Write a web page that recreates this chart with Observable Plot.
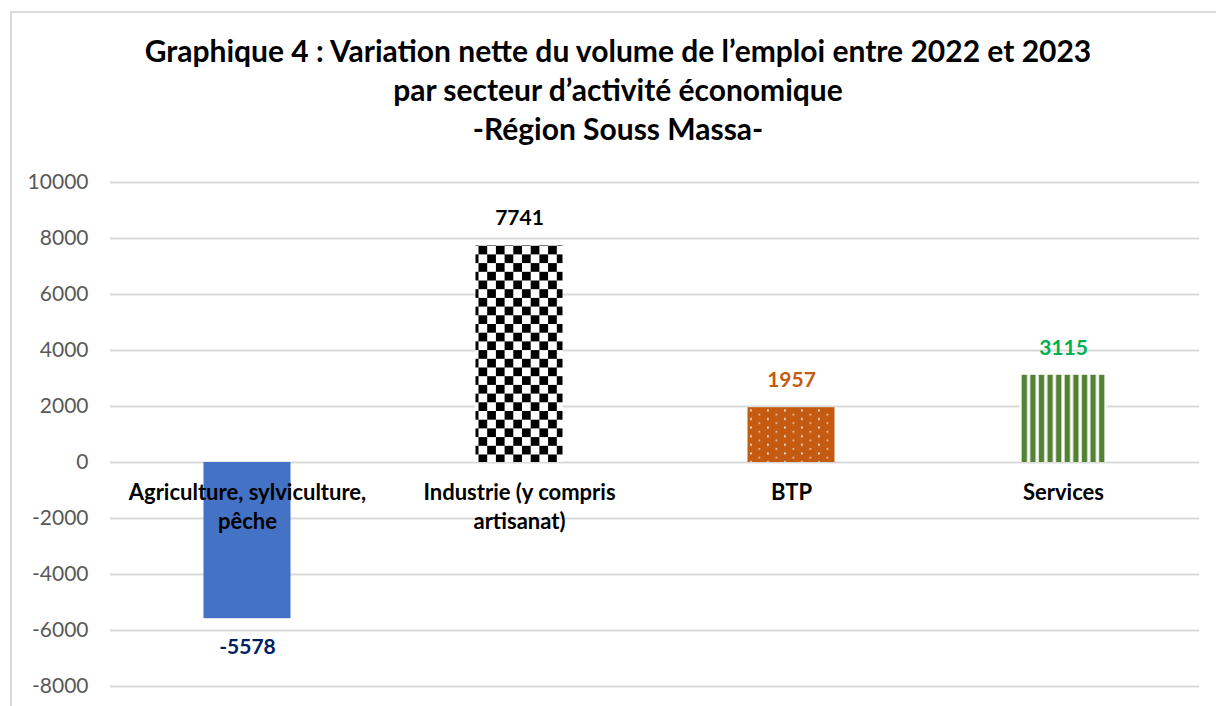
<!DOCTYPE html>
<html>
<head>
<meta charset="utf-8">
<script src="https://cdn.jsdelivr.net/npm/d3@7"></script>
<script src="https://cdn.jsdelivr.net/npm/@observablehq/plot@0.6"></script>
<style>
  html, body { margin: 0; padding: 0; background: #fff; overflow: hidden; }
  body { width: 1216px; height: 706px; position: relative; font-family: Lato, "Open Sans", sans-serif; }
  #frame { position: absolute; left: 10px; top: 11px; width: 1240px; height: 760px; border: 2px solid #d9d9d9; box-sizing: border-box; }
  #title { position: absolute; left: 0; width: 1236px; top: 31px; text-align: center; font-weight: 700; font-size: 30px; line-height: 39px; color: #000; }
  #chart { position: absolute; left: 0; top: 150px; }
</style>
</head>
<body>
<div id="frame"></div>
<div id="title">Graphique 4 : Variation nette du volume de l’emploi entre 2022 et 2023<br>par secteur d’activité économique<br>-Région Souss Massa-</div>
<svg width="0" height="0" style="position:absolute">
  <defs>
    <pattern id="checker" patternUnits="userSpaceOnUse" x="0" y="0" width="17.4" height="17.4">
      <rect width="17.4" height="17.4" fill="#ffffff"/>
      <rect x="0" y="0" width="8.7" height="8.7" fill="#000000"/>
      <rect x="8.7" y="8.7" width="8.7" height="8.7" fill="#000000"/>
    </pattern>
    <pattern id="dotsOrange" patternUnits="userSpaceOnUse" x="0" y="0" width="17" height="8.6">
      <rect width="17" height="8.6" fill="#C55A11"/>
      <rect x="2" y="1.5" width="1.8" height="1.8" fill="#ffffff" opacity="0.9"/>
      <rect x="10.5" y="5.8" width="1.8" height="1.5" fill="#ffffff" opacity="0.7"/>
    </pattern>
    <pattern id="stripesGreen" patternUnits="userSpaceOnUse" x="1019" y="0" width="8.6" height="10">
      <rect width="8.6" height="10" fill="#ffffff"/>
      <rect x="2.6" y="0" width="5.4" height="10" fill="#548235"/>
    </pattern>
  </defs>
</svg>
<div id="chart"></div>
<script>
const categories = ["Agriculture, sylviculture, pêche", "Industrie (y compris artisanat)", "BTP", "Services"];
const values = [-5578, 7741, 1957, 3115];
const categoryLabels = ["Agriculture, sylviculture,\npêche", "Industrie (y compris\nartisanat)", "BTP", "Services"];
const yTicks = [-8000, -6000, -4000, -2000, 0, 2000, 4000, 6000, 8000, 10000];

const barFills = ["#4472C4", "url(#checker)", "url(#dotsOrange)", "url(#stripesGreen)"];
const valueColors = ["#002060", "#000000", "#C55A11", "#00B050"];

const data = categories.map((c, i) => ({category: c, value: values[i], label: categoryLabels[i], vcolor: valueColors[i]}));

const font = "Lato, 'Open Sans', sans-serif";

const chart = Plot.plot({
  width: 1216,
  height: 556,
  marginLeft: 110,
  marginRight: 17,
  marginTop: 32,
  marginBottom: 20,
  style: {fontFamily: font, background: "transparent"},
  x: {domain: categories, padding: 0, axis: null},
  y: {domain: [-8000, 10000], ticks: yTicks, tickFormat: d => String(d), label: null, tickSize: 0, tickPadding: 22},
  color: {domain: categories, range: barFills},
  marks: [
    Plot.gridY(yTicks, {stroke: "#d9d9d9", strokeOpacity: 1, strokeWidth: 2}),
    Plot.axisY({ticks: yTicks, tickFormat: d => String(d), tickSize: 0, tickPadding: 22, fontSize: 21, fill: "#595959", label: null}),
    Plot.barY(data, {x: "category", y: "value", fill: "category", insetLeft: 92.5, insetRight: 92.5}),
    Plot.text(data, {x: "category", y: 0, text: "label", dy: 17, lineAnchor: "top", fontSize: 22, fontWeight: 700, fill: "#000", lineHeight: 1.32}),
    Plot.text(data.filter(d => d.value >= 0), {x: "category", y: "value", text: d => String(d.value), dy: -27, fontSize: 21, fontWeight: 700,
      fill: {value: "vcolor", scale: null}}),
    Plot.text(data.filter(d => d.value < 0), {x: "category", y: "value", text: d => String(d.value), dy: 29, fontSize: 21, fontWeight: 700,
      fill: {value: "vcolor", scale: null}})
  ]
});

document.getElementById("chart").appendChild(chart);
</script>
</body>
</html>
